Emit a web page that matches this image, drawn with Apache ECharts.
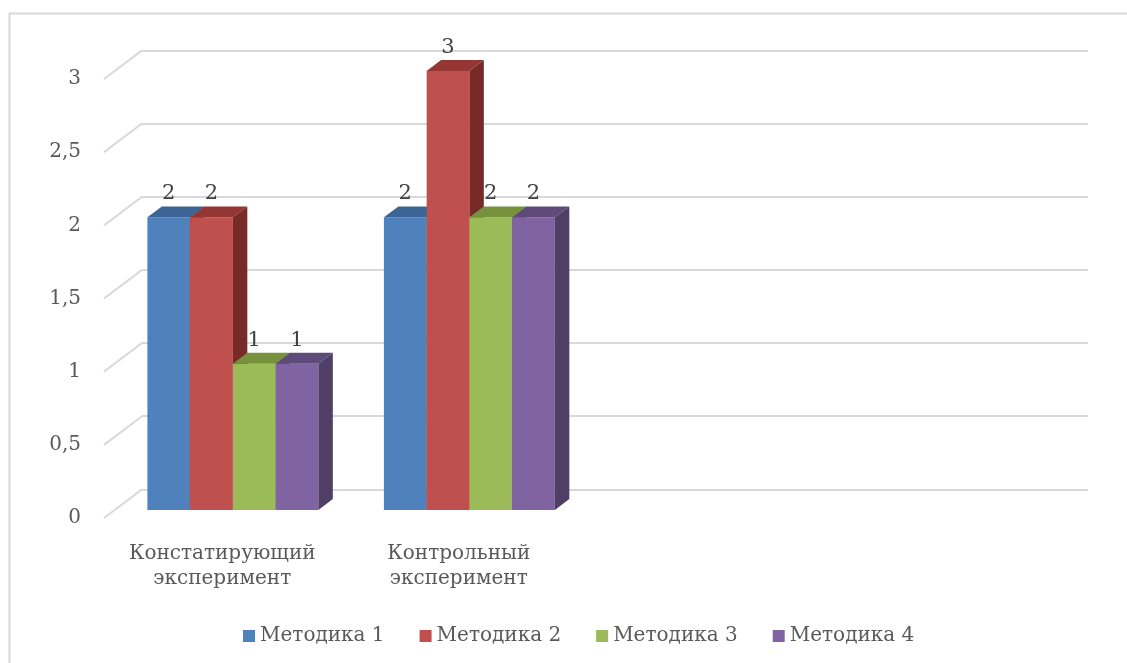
<!DOCTYPE html>
<html><head><meta charset="utf-8">
<script src="https://cdn.jsdelivr.net/npm/echarts@6/dist/echarts.min.js"></script>
<style>html,body{margin:0;padding:0;background:#fff}#c{width:1127px;height:663px}</style>
</head><body><div id="c"></div>
<script>
const categories = ['Констатирующий\nэксперимент', 'Контрольный\nэксперимент', '', ''];
const seriesNames = ['Методика 1', 'Методика 2', 'Методика 3', 'Методика 4'];
const metod1 = [2, 2, null, null];
const metod2 = [2, 3, null, null];
const metod3 = [1, 2, null, null];
const metod4 = [1, 2, null, null];
const yTicks = [0, 0.5, 1, 1.5, 2, 2.5, 3];

const allValues = [metod1, metod2, metod3, metod4];
const FONT = 'DejaVu Serif';
const DX = 38, DY = -28.6;   // front -> back plane
const F0 = 0.28, FD = 0.38;  // bar front position & depth (fractions of depth)
const GROUP = 0.723;
const faces = [
  ['#4F81BD', '#3C6494', '#2E4B70'],
  ['#C0504D', '#943634', '#772B29'],
  ['#9BBB59', '#76923C', '#5E7530'],
  ['#8064A2', '#5F4B7A', '#4F3E66']
];

function barRenderer(si) {
  return function (params, api) {
    const cat = api.value(0), v = api.value(1);
    const base = api.coord([cat, 0]);
    const top = api.coord([cat, v]);
    const band = api.size([1, 0])[0];
    const gw = band * GROUP, bw = gw / 4;
    const x0 = base[0] - gw / 2 + si * bw + DX * F0;
    const yb = base[1] + DY * F0, yt = top[1] + DY * F0;
    const dx = DX * FD, dy = DY * FD;
    const c = faces[si];
    return {
      type: 'group',
      children: [
        {type: 'rect', shape: {x: x0, y: yt, width: bw, height: yb - yt}, style: {fill: c[0]}},
        {type: 'polygon', shape: {points: [[x0, yt], [x0 + bw, yt], [x0 + bw + dx, yt + dy], [x0 + dx, yt + dy]]}, style: {fill: c[1]}},
        {type: 'polygon', shape: {points: [[x0 + bw, yt], [x0 + bw + dx, yt + dy], [x0 + bw + dx, yb + dy], [x0 + bw, yb]]}, style: {fill: c[2]}},
        {type: 'text', style: {text: String(v), x: x0 + bw / 2, y: yt + dy - 2, align: 'center', verticalAlign: 'bottom', fill: '#404040', font: '21px "' + FONT + '"'}}
      ]
    };
  };
}

const chart = echarts.init(document.getElementById('c'));
const series = seriesNames.map((name, si) => ({
  name: name,
  type: 'custom',
  xAxisIndex: 0, yAxisIndex: 0,
  itemStyle: {color: faces[si][0]},
  encode: {x: 0, y: 1},
  data: allValues[si].map((v, i) => [i, v]).filter(d => d[1] != null),
  renderItem: barRenderer(si),
  z: 3
}));
series.unshift({
  type: 'custom',
  xAxisIndex: 0, yAxisIndex: 0,
  encode: {x: 0, y: 1},
  data: yTicks.map(t => [0, t]),
  silent: true,
  z: 1,
  renderItem: function (params, api) {
    const p = api.coord([0, api.value(1)]);
    const x = params.coordSys.x;
    return {type: 'line', shape: {x1: x, y1: p[1], x2: x + DX, y2: p[1] + DY}, style: {stroke: '#D9D9D9', lineWidth: 2}};
  }
});

chart.setOption({
  animation: false,
  color: faces.map(f => f[0]),
  graphic: [{type: 'rect', shape: {x: 9.5, y: 13.5, width: 1300, height: 800}, style: {fill: 'none', stroke: '#D9D9D9', lineWidth: 2}, silent: true, z: -10}],
  grid: [
    {left: 104, right: 77, top: 79, bottom: 145},
    {left: 142, right: 39, top: 50.4, bottom: 173.6}
  ],
  xAxis: [
    {type: 'category', gridIndex: 0, data: categories, boundaryGap: true,
     axisLine: {show: false}, axisTick: {show: false},
     axisLabel: {color: '#595959', fontFamily: FONT, fontSize: 20, lineHeight: 25, margin: 23, interval: 0}},
    {type: 'category', gridIndex: 1, data: categories, show: false}
  ],
  yAxis: [
    {type: 'value', gridIndex: 0, min: 0, max: 3, interval: 0.5,
     axisLine: {show: false}, axisTick: {show: false}, splitLine: {show: false},
     axisLabel: {color: '#595959', fontFamily: FONT, fontSize: 20, margin: 23,
       formatter: v => String(v).replace('.', ',')}},
    {type: 'value', gridIndex: 1, min: 0, max: 3, interval: 0.5,
     axisLine: {show: false}, axisTick: {show: false}, axisLabel: {show: false},
     splitLine: {show: true, lineStyle: {color: '#D9D9D9', width: 2}}}
  ],
  legend: {
    data: seriesNames, left: 238, top: 621, itemWidth: 12, itemHeight: 12, itemGap: 35,
    icon: 'rect', textStyle: {color: '#595959', fontFamily: FONT, fontSize: 20, padding: [0, 0, 0, 0]}
  },
  series: series
});
</script></body></html>
